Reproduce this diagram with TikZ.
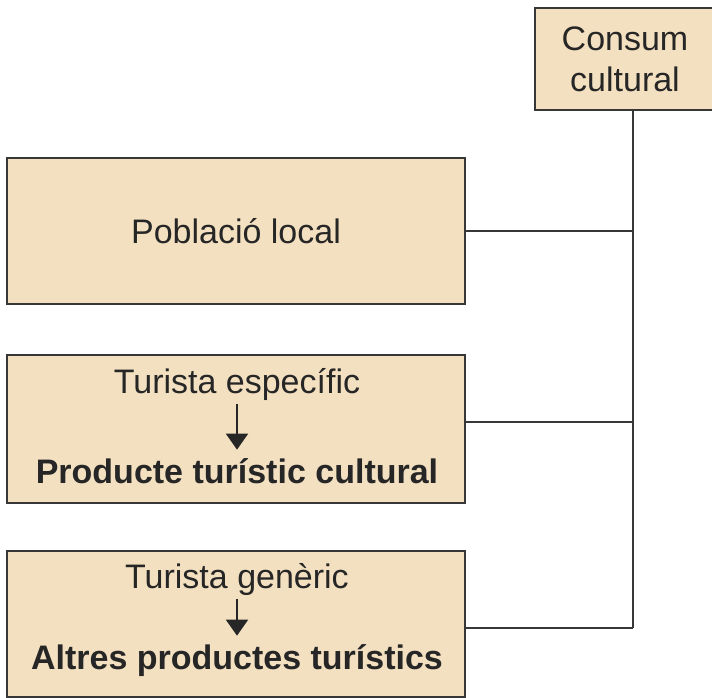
\documentclass[tikz,border=0pt]{standalone}
\usepackage{fontspec}
\setmainfont{Liberation Sans}
\usetikzlibrary{arrows.meta}
\definecolor{beix}{RGB}{243,224,192}
\definecolor{vora}{RGB}{55,55,55}
\begin{document}
\begin{tikzpicture}[x=0.5pt,y=0.5pt,
    caixa/.style={draw=vora,fill=beix,line width=1pt,inner sep=0pt,align=center,
      font=\fontsize{17}{20.5}\selectfont,text=black!85},
    lletra/.style={font=\fontsize{17}{20.5}\selectfont,text=black!85,inner sep=0pt,anchor=base},
    fletxa/.style={draw=black!85,line width=1pt,-{Triangle[width=11pt,length=8pt]}},
    linia/.style={draw=vora,line width=1pt}]
\useasboundingbox (0,0) rectangle (712,697);
% caixes
\node[caixa,minimum width=90pt,minimum height=51pt] (consum) at (625,638) {Consum\\cultural};
\node[caixa,minimum width=229pt,minimum height=73pt] (local) at (236,466) {Població local};
\node[caixa,minimum width=229pt,minimum height=74pt] (esp) at (236,268) {};
\node[caixa,minimum width=229pt,minimum height=73pt] (gen) at (236,73) {};
% textos de dins
\node[lletra] (tesp) at (237,304) {Turista específic};
\node[lletra] (pesp) at (237,214) {\bfseries Producte turístic cultural};
\node[lletra] (tgen) at (237,109) {Turista genèric};
\node[lletra] (pgen) at (237,28) {\bfseries Altres productes turístics};
\draw[fletxa,shorten <=2pt,shorten >=4pt] (tesp) -- (pesp);
\draw[fletxa,shorten <=2pt,shorten >=4pt] (tgen) -- (pgen);
% connexions
\coordinate (eix) at (633,69);
\draw[linia] (consum.south -| eix) -- (eix);
\draw[linia] (local.east) -- (local.east -| eix);
\draw[linia] ([yshift=3.5pt]esp.east) -- ([yshift=3.5pt]esp.east -| eix);
\draw[linia] (gen.east |- eix) -- (eix);
\end{tikzpicture}
\end{document}
